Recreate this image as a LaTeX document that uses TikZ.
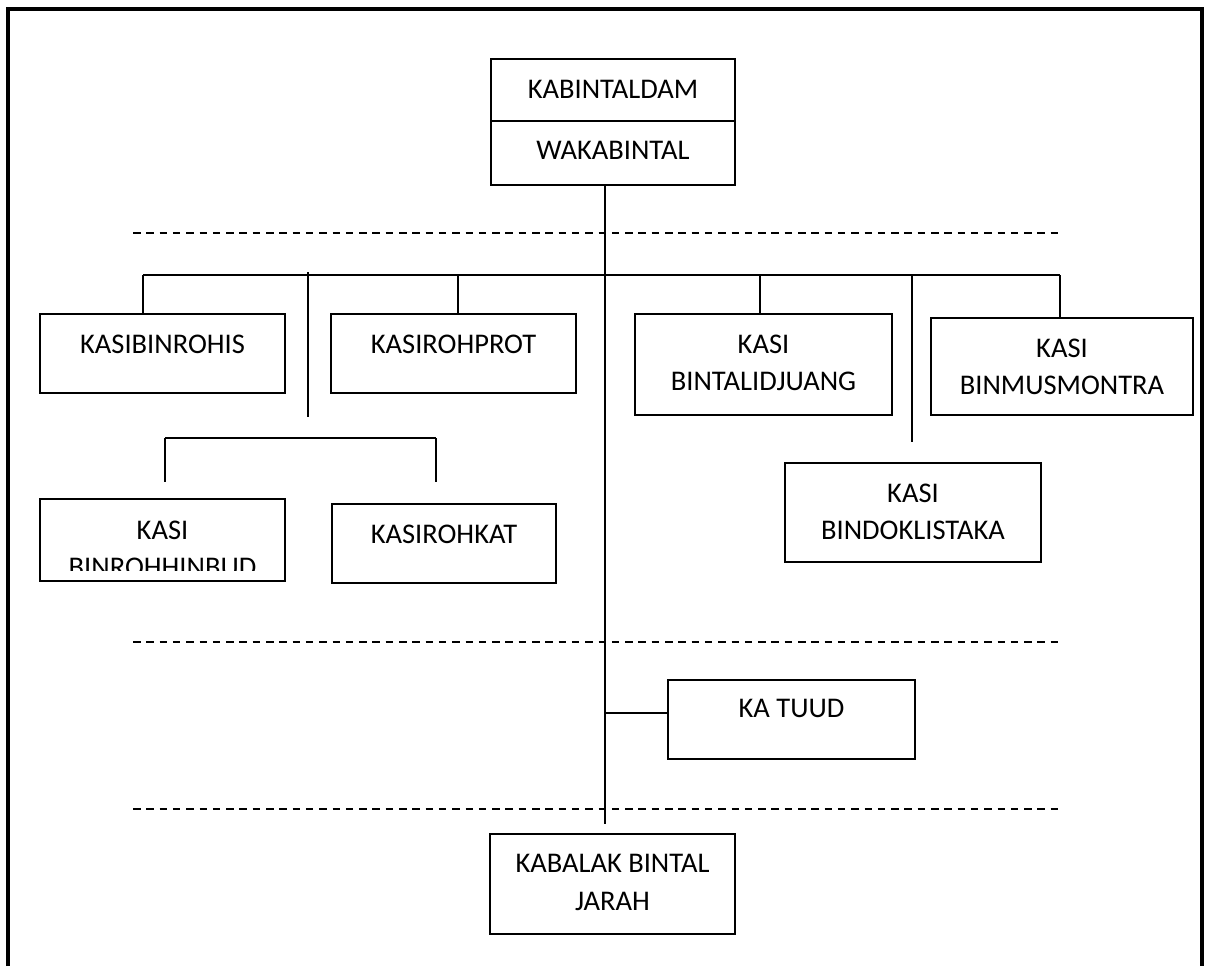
\documentclass[tikz,border=0pt]{standalone}
\usepackage{fontspec}
\setmainfont{Carlito}
\usepackage{tikz}
\usetikzlibrary{positioning}
\tikzset{
  kotak/.style={draw, line width=2.2pt, inner sep=0pt},
  teks/.style={font=\fontsize{28.5}{37.5}\selectfont, align=center, inner sep=0pt},
  garis/.style={line width=1.8pt},
  putus/.style={line width=2pt, dash pattern=on 7.5pt off 5.8pt},
}

\begin{document}
\begin{tikzpicture}[x=1pt, y=-1pt]
      \useasboundingbox (0,0) rectangle (1209,966);
      \draw[line width=4pt] (8,966) -- (8,9) -- (1202,9) -- (1202,966);

      \node[kotak, minimum width=244pt, minimum height=62pt] (kabintaldam) at (613,90) {};
      \node[kotak, minimum width=244pt, minimum height=64pt] (wakabintal) at (613,153) {};
      \node[kotak, minimum width=245pt, minimum height=79pt] (kasibinrohis) at (162.5,353.5) {};
      \node[kotak, minimum width=245pt, minimum height=79pt] (kasirohprot) at (453.5,353.5) {};
      \node[kotak, minimum width=257pt, minimum height=101pt] (bintalidjuang) at (763.5,364.5) {};
      \node[kotak, minimum width=262pt, minimum height=97pt] (binmusmontra) at (1062,366.5) {};
      \node[kotak, minimum width=245pt, minimum height=82pt] (binrohhinbud) at (162.5,540) {};
      \node[kotak, minimum width=224pt, minimum height=79pt] (kasirohkat) at (444,543.5) {};
      \node[kotak, minimum width=256pt, minimum height=99pt] (bindoklistaka) at (913,512.5) {};
      \node[kotak, minimum width=247pt, minimum height=79pt] (katuud) at (791.5,719.5) {};
      \node[kotak, minimum width=245pt, minimum height=100pt] (kabalak) at (612.5,884) {};

      \node[teks, below=22pt of kabintaldam.north] (t-kabintaldam) {KABINTALDAM};
      \node[teks, below=21pt of wakabintal.north] (t-wakabintal) {WAKABINTAL};
      \node[teks, below=21.5pt of kasibinrohis.north] (t-kasibinrohis) {KASIBINROHIS};
      \node[teks, below=21.5pt of kasirohprot.north] (t-kasirohprot) {KASIROHPROT};
      \node[teks, below=21.5pt of bintalidjuang.north] (t-bintalidjuang) {KASI\\BINTALIDJUANG};
      \node[teks, below=21.5pt of binmusmontra.north] (t-binmusmontra) {KASI\\BINMUSMONTRA};
      \node[teks, below=21.5pt of kasirohkat.north] (t-kasirohkat) {KASIROHKAT};
      \node[teks, below=21.5pt of bindoklistaka.north] (t-bindoklistaka) {KASI\\BINDOKLISTAKA};
      \node[teks, below=20.5pt of katuud.north] (t-katuud) {KA TUUD};
      \node[teks, below=21.5pt of kabalak.north] (t-kabalak) {KABALAK BINTAL\\JARAH};
      \begin{scope}
        \clip (binrohhinbud.north west) rectangle ([yshift=-73pt]binrohhinbud.north east);
        \node[teks, below=22.5pt of binrohhinbud.north] (t-binrohhinbud) {KASI\\BINROHHINBUD};
      \end{scope}

      \draw[putus] (133,233) -- (1058,233);
      \draw[putus] (133,642) -- (1058,642);
      \draw[putus] (133,809) -- (1058,809);

      \coordinate (ujung) at (605,824);
      \draw[garis] (wakabintal.south -| ujung) -- (ujung);

      \coordinate (bus-kiri) at (143,275);
      \coordinate (bus-kanan) at (1060,275);
      \draw[garis] (bus-kiri) -- (bus-kanan);
      \foreach \x/\n in {143/kasibinrohis, 458/kasirohprot, 760/bintalidjuang, 1060/binmusmontra}{
        \coordinate (cabang) at (\x,275);
        \draw[garis] (cabang) -- (cabang |- \n.north);
      }

      \coordinate (rohis-atas) at (308,272);
      \coordinate (rohis-bawah) at (308,417);
      \draw[garis] (rohis-atas) -- (rohis-bawah);
      \coordinate (dok-atas) at (912,275);
      \coordinate (dok-bawah) at (912,442);
      \draw[garis] (dok-atas) -- (dok-bawah);

      \coordinate (sub-kiri) at (165,438);
      \coordinate (sub-kanan) at (436,438);
      \draw[garis] (sub-kiri) -- (sub-kanan);
      \draw[garis] (sub-kiri) -- ++(0,44);
      \draw[garis] (sub-kanan) -- ++(0,44);

      \draw[garis] ([yshift=6.5pt]katuud.west) -- ([yshift=6.5pt]katuud.west -| ujung);
\end{tikzpicture}
\end{document}
